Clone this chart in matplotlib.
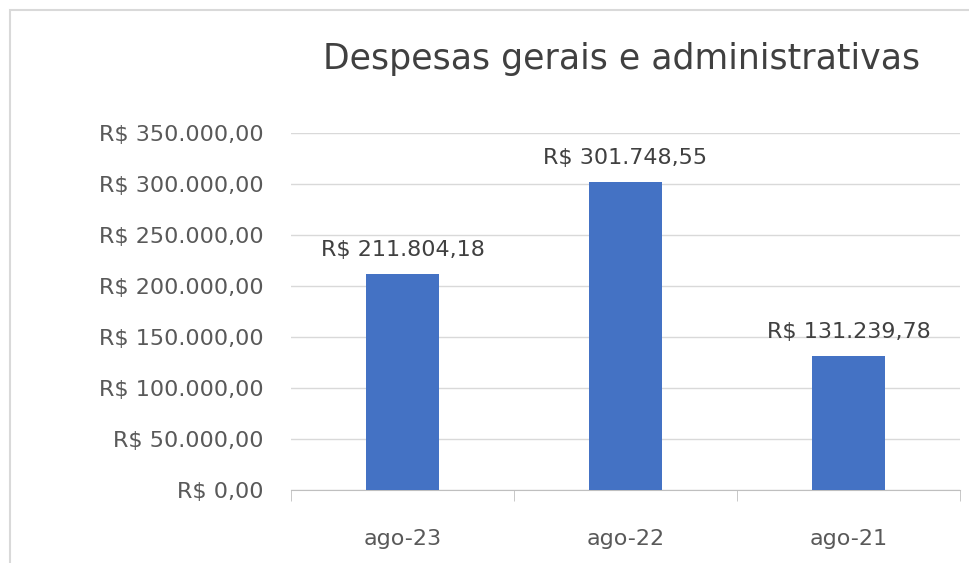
import matplotlib.pyplot as plt
from matplotlib.patches import Rectangle
from matplotlib.ticker import FuncFormatter

# dados do gráfico
categorias = ["ago-23", "ago-22", "ago-21"]
valores = [211804.18, 301748.55, 131239.78]
titulo = "Despesas gerais e administrativas"


def brl(v, casas=2):
    s = f"{v:,.{casas}f}"
    s = s.replace(",", "X").replace(".", ",").replace("X", ".")
    return "R$ " + s


plt.rcParams['font.family'] = ['DejaVu Sans']

fig = plt.figure(figsize=(9.69, 5.63), dpi=100)
ax = fig.add_axes([291 / 969, 1 - 490 / 563, (960 - 291) / 969, (490 - 133) / 563])

x = range(len(categorias))
ax.bar(x, valores, width=0.33, color="#4472C4", zorder=3)

for i, v in enumerate(valores):
    ax.annotate(brl(v), (i, v), xytext=(0, 13), textcoords="offset points",
                ha="center", va="baseline", fontsize=16, color="#404040")

ax.set_xlim(-0.5, len(categorias) - 0.5)
ax.set_ylim(0, 350000)
ax.set_yticks(range(0, 350001, 50000))
ax.yaxis.set_major_formatter(FuncFormatter(lambda v, p: brl(v)))
ax.set_xticks(list(x))
ax.set_xticklabels(categorias)
ax.set_xticks([-0.5, 0.5, 1.5, 2.5], minor=True)

ax.grid(axis="y", color="#D9D9D9", linewidth=1, zorder=0)
for s in ["top", "right", "left"]:
    ax.spines[s].set_visible(False)
ax.spines["bottom"].set_color("#BFBFBF")

ax.tick_params(axis="y", length=0, pad=20, labelsize=16, labelcolor="#595959")
ax.tick_params(axis="x", which="major", length=0, pad=28, labelsize=16, labelcolor="#595959")
ax.tick_params(axis="x", which="minor", length=8, color="#BFBFBF", direction="out")

fig.text(622 / 969, 1 - 69 / 563, titulo, ha="center", va="baseline", fontsize=25, color="#404040")

# moldura do gráfico
fig.patches.append(Rectangle((10 / 969, -0.1), 1.2, 1 - 10 / 563 + 0.1, transform=fig.transFigure,
                             fill=False, edgecolor="#D9D9D9", linewidth=1.5))

fig.savefig("out.png", dpi=100)
